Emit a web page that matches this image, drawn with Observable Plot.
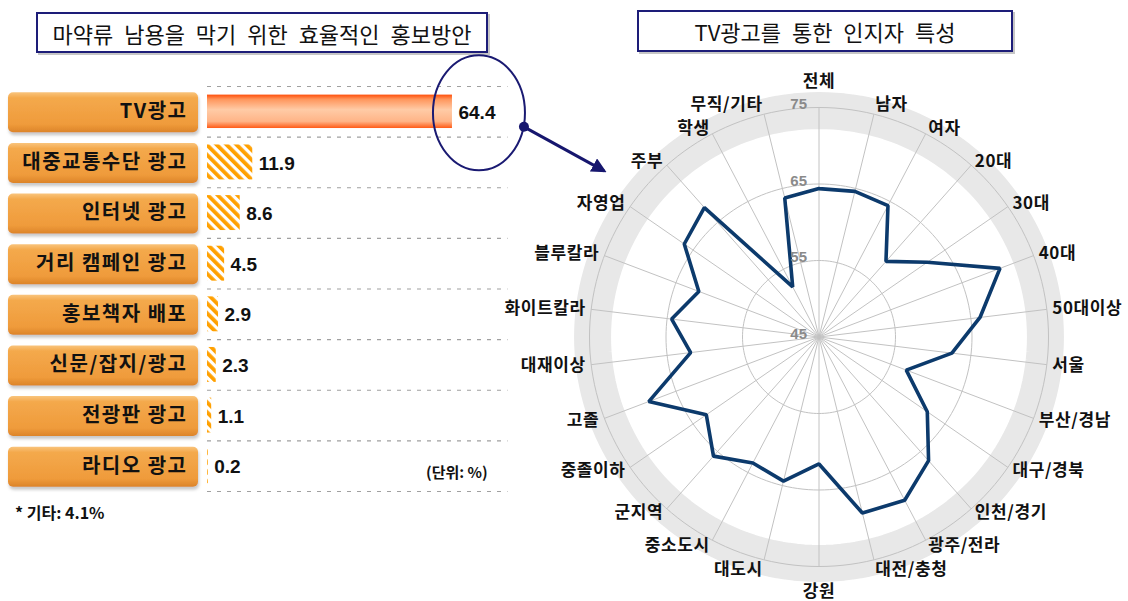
<!DOCTYPE html>
<html><head><meta charset="utf-8">
<script src="https://cdn.jsdelivr.net/npm/d3@7"></script>
<script src="https://cdn.jsdelivr.net/npm/@observablehq/plot@0.6"></script>
<style>
html,body{margin:0;padding:0;background:#fff;}
#root{position:relative;width:1128px;height:601px;overflow:hidden;font-family:"Noto Sans CJK KR","Noto Sans",sans-serif;}
.titlebox{position:absolute;border:2.5px solid #1d1d78;box-shadow:2px 2px 0 #c6c6c6;background:#fff;display:flex;align-items:center;justify-content:center;font-size:22px;word-spacing:6px;color:#111;box-sizing:border-box;white-space:nowrap;}
.note{position:absolute;color:#111;white-space:nowrap;}
svg{overflow:visible;}
</style></head><body><div id="root"></div>
<script>
// ---------- data ----------
const leftTitle = "마약류 남용을 막기 위한 효율적인 홍보방안";
const rightTitle = "TV광고를 통한 인지자 특성";
const methods = ["TV광고","대중교통수단 광고","인터넷 광고","거리 캠페인 광고","홍보책자 배포","신문/잡지/광고","전광판 광고","라디오 광고"];
const methodValues = [64.4, 11.9, 8.6, 4.5, 2.9, 2.3, 1.1, 0.2];
const unitNote = "(단위: %)";
const otherNote = "* 기타: 4.1%";

const groups = ["전체","남자","여자","20대","30대","40대","50대이상","서울","부산/경남","대구/경북","인천/경기","광주/전라","대전/충청","강원","대도시","중소도시","군지역","중졸이하","고졸","대재이상","화이트칼라","블루칼라","자영업","주부","학생","무직/기타"];
const groupValues = [64.4, 64.6, 64.4, 58.2, 62.2, 70.3, 66.2, 62.5, 57.2, 62.2, 66.6, 69.1, 68.7, 61.6, 64.4, 63.6, 65.8, 62.9, 68.8, 61.9, 64.4, 61.8, 66.4, 67.6, 52.4, 63.7];
const radialTicks = [45, 55, 65, 75];

// ---------- layout ----------
const FONT = '"Noto Sans CJK KR","Noto Sans",sans-serif';
const NUMFONT = '"Liberation Sans",Arial,sans-serif';
const root = document.getElementById("root");

function addBox(text, left, top, width, height) {
  const d = document.createElement("div");
  d.className = "titlebox";
  Object.assign(d.style, {left: left + "px", top: top + "px", width: width + "px", height: height + "px"});
  d.textContent = text;
  root.appendChild(d);
}
function addNote(text, left, top, size, weight) {
  const d = document.createElement("div");
  d.className = "note";
  Object.assign(d.style, {left: left + "px", top: top + "px", fontSize: size + "px", fontWeight: weight});
  d.textContent = text;
  root.appendChild(d);
}

// shared defs (gradients / pattern)
const defsSvg = d3.select(root).append("svg").attr("width", 0).attr("height", 0).style("position", "absolute");
const defs = defsSvg.append("defs");
const tv = defs.append("linearGradient").attr("id", "tvGrad").attr("x1", 0).attr("x2", 0).attr("y1", 0).attr("y2", 1);
[[0, "#ff4e0a"], [0.14, "#ff965c"], [0.45, "#ffcba6"], [0.8, "#ffb487"], [1, "#ff5a16"]].forEach(([o, c]) => tv.append("stop").attr("offset", o).attr("stop-color", c));
const bg = defs.append("linearGradient").attr("id", "btnGrad").attr("x1", 0).attr("x2", 0).attr("y1", 0).attr("y2", 1);
[[0, "#f9c47c"], [0.14, "#f4a94c"], [0.8, "#ef9b3b"], [1, "#dc8429"]].forEach(([o, c]) => bg.append("stop").attr("offset", o).attr("stop-color", c));
const hatch = defs.append("pattern").attr("id", "hatch").attr("patternUnits", "userSpaceOnUse")
  .attr("width", 7).attr("height", 7).attr("patternTransform", "rotate(-45)");
hatch.append("rect").attr("width", 7).attr("height", 7).attr("fill", "#fff");
hatch.append("rect").attr("width", 3.8).attr("height", 7).attr("fill", "#ffa000");
const sh = defs.append("filter").attr("id", "btnShadow").attr("x", "-10%").attr("y", "-20%").attr("width", "130%").attr("height", "160%");
sh.append("feDropShadow").attr("dx", 1).attr("dy", 3).attr("stdDeviation", 1.5).attr("flood-color", "#888").attr("flood-opacity", 0.45);

addBox(leftTitle, 36, 12, 452, 41);
addBox(rightTitle, 637, 10, 376, 42);

// ---------- bar chart ----------
const barData = methods.map((name, i) => ({i, name, value: methodValues[i]}));
const barPlot = Plot.plot({
  width: 520, height: 601,
  marginLeft: 207, marginRight: 12.5, marginTop: 86, marginBottom: 110,
  style: {fontFamily: FONT, fontSize: "20px", fontWeight: "bold", color: "#111", background: "transparent", overflow: "visible"},
  x: {domain: [0, 79], axis: null},
  y: {domain: [methods.length - 0.5, -0.5], axis: "left", ticks: d3.range(methods.length), tickFormat: i => methods[i], tickSize: 0, tickPadding: 20, label: null},
  marks: [
    Plot.ruleY(d3.range(methods.length + 1).map(i => i - 0.5), {stroke: "#a0a0a0", strokeWidth: 1.2, strokeDasharray: "4,6"}),
    Plot.rect(barData.filter(d => d.i === 0), {x1: 0, x2: "value", y1: d => d.i - 0.33, y2: d => d.i + 0.33, fill: "url(#tvGrad)"}),
    Plot.rect(barData.filter(d => d.i > 0), {x1: 0, x2: "value", y1: d => d.i - 0.345, y2: d => d.i + 0.345, fill: "url(#hatch)"}),
    Plot.text(barData, {x: "value", y: "i", text: d => d.value.toFixed(1), textAnchor: "start", dx: 6, dy: 1, fontSize: 19, fontWeight: "bold", fontFamily: NUMFONT, fill: "#111"})
  ]
});
barPlot.style.position = "absolute";
barPlot.style.left = "0px";
barPlot.style.top = "0px";
root.appendChild(barPlot);
// letter-spacing only on the category (axis) labels
const methodSet = new Set(methods);
d3.select(barPlot).selectAll("text").filter(function() { return methodSet.has(this.textContent); }).style("letter-spacing", "1.5px");

// label buttons behind the y-axis labels
const yBar = barPlot.scale("y"), xBar = barPlot.scale("x");
const btnG = d3.select(barPlot).insert("g", ":first-child");
methods.forEach((m, i) => {
  const cy = yBar.apply(i);
  btnG.append("rect").attr("x", 8).attr("y", cy - 19).attr("width", 190).attr("height", 40)
    .attr("rx", 5).attr("fill", "url(#btnGrad)").attr("filter", "url(#btnShadow)");
});

addNote(unitNote, 426, 461, 15, "bold");
addNote(otherNote, 15, 500, 16, "bold");

// ---------- radar ----------
const n = groups.length;
const ang = i => i * 2 * Math.PI / n;
const PX = 7.65;                 // pixels per value unit
const RW = 588, RH = 601, CX = 278.5, CY = 336.5;
const base = radialTicks[0];
const pt = (v, i) => ({x: (v - base) * Math.sin(ang(i)), y: (v - base) * Math.cos(ang(i))});
const circle = (r, t) => d3.range(0, 361, 2).map(a => ({t, x: r * Math.sin(a * Math.PI / 180), y: r * Math.cos(a * Math.PI / 180)}));

const poly = groupValues.map((v, i) => pt(v, i));
poly.push(poly[0]);
const gridPts = radialTicks.slice(1).flatMap(t => circle(t - base, t));
const outerR = radialTicks[radialTicks.length - 1] - base;
const bandPts = circle(outerR - 0.4, "band");
const spokes = groups.map((g, i) => ({g, ...pt(radialTicks[radialTicks.length - 1], i)}));

const LR = 235 / PX, LRV = 255 / PX;
const lab = groups.map((g, i) => {
  const s = Math.sin(ang(i)), c = Math.cos(ang(i));
  const lift = Math.abs(c) > 0.95 ? 0.55 * Math.sign(c) : 0;
  return {g, s, c, lx: LR * s, ly: LR * c + lift};
});
const labRight = lab.filter(d => d.s > 0.05), labLeft = lab.filter(d => d.s < -0.05), labMid = lab.filter(d => Math.abs(d.s) <= 0.05);

const radar = Plot.plot({
  width: RW, height: RH, margin: 0,
  style: {fontFamily: FONT, background: "transparent", overflow: "visible"},
  x: {domain: [-CX / PX, (RW - CX) / PX], axis: null},
  y: {domain: [-(RH - CY) / PX, CY / PX], axis: null},
  marks: [
    Plot.line(bandPts, {x: "x", y: "y", stroke: "#e8e8e8", strokeWidth: 37}),
    Plot.line(gridPts, {x: "x", y: "y", z: "t", stroke: "#c2c2c2", strokeWidth: 1}),
    Plot.link(spokes, {x1: 0, y1: 0, x2: "x", y2: "y", stroke: "#c2c2c2", strokeWidth: 1}),
    Plot.line(poly, {x: "x", y: "y", stroke: "#0c3a6c", strokeWidth: 3.6, strokeLinejoin: "miter"}),
    Plot.text(radialTicks, {x: 0, y: d => d - base, text: d => String(d), textAnchor: "end", dx: -12, dy: -3, fill: "#8a8a8a", fontSize: 15, fontWeight: "bold", fontFamily: NUMFONT}),
    Plot.text(labRight, {x: "lx", y: "ly", text: "g", textAnchor: "start", fontSize: 17, fontWeight: "bold", fill: "#111"}),
    Plot.text(labLeft, {x: "lx", y: "ly", text: "g", textAnchor: "end", fontSize: 17, fontWeight: "bold", fill: "#111"}),
    Plot.text(labMid, {x: d => LRV * d.s, y: d => LRV * d.c, text: "g", textAnchor: "middle", fontSize: 17, fontWeight: "bold", fill: "#111"})
  ]
});
radar.style.position = "absolute";
radar.style.left = "540px";
radar.style.top = "0px";
root.appendChild(radar);
const groupSet = new Set(groups);
d3.select(radar).selectAll("text").filter(function() { return groupSet.has(this.textContent); }).style("letter-spacing", "0.6px");

// ---------- annotation (ellipse + arrow) ----------
const ov = d3.select(root).append("svg").attr("width", 1128).attr("height", 601)
  .style("position", "absolute").style("left", 0).style("top", 0).style("pointer-events", "none");
ov.append("defs").append("marker").attr("id", "ah").attr("viewBox", "0 0 10 10").attr("refX", 8).attr("refY", 5)
  .attr("markerWidth", 5).attr("markerHeight", 5).attr("orient", "auto")
  .append("path").attr("d", "M0,0L10,5L0,10z").attr("fill", "#16166e");
const ex = xBar.apply(methodValues[0]) + 27, ey = yBar.apply(0) + 1.5;
ov.append("ellipse").attr("cx", ex).attr("cy", ey).attr("rx", 46).attr("ry", 57.5)
  .attr("fill", "none").attr("stroke", "#1a1a72").attr("stroke-width", 2);
const dx0 = ex + 45, dy0 = ey + 14;
ov.append("line").attr("x1", dx0).attr("y1", dy0).attr("x2", dx0 + 80).attr("y2", dy0 + 44)
  .attr("stroke", "#16166e").attr("stroke-width", 3).attr("marker-end", "url(#ah)");
ov.append("circle").attr("cx", dx0).attr("cy", dy0).attr("r", 5).attr("fill", "#16166e");
</script></body></html>
